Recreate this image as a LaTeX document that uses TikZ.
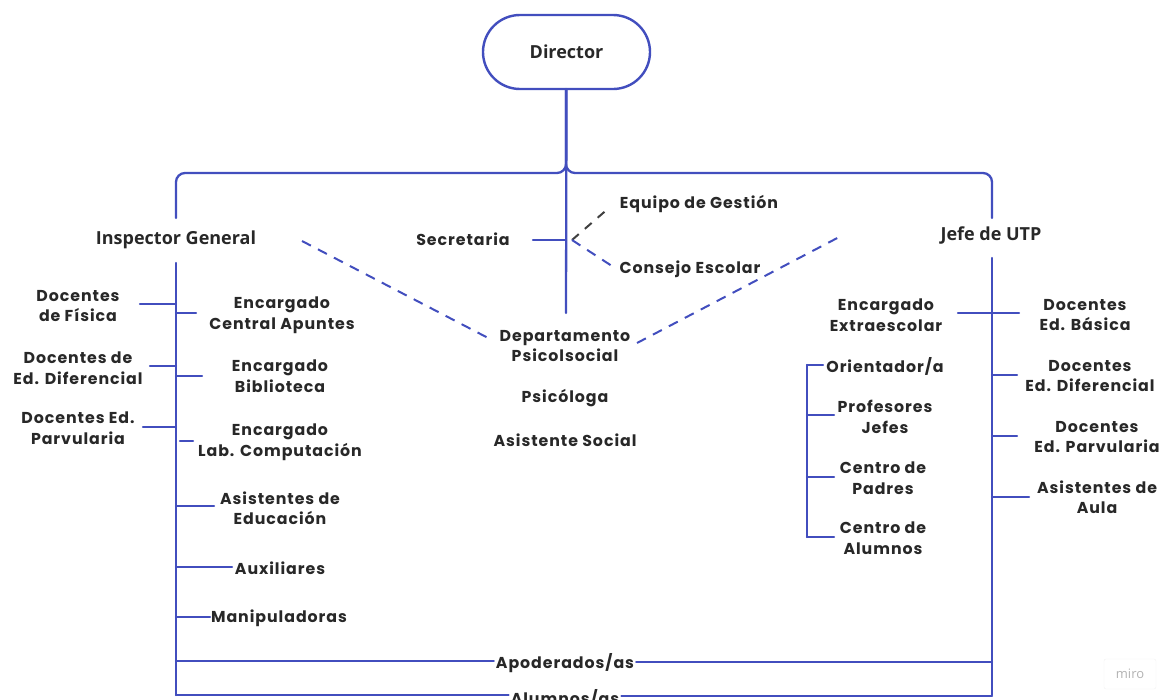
\documentclass[tikz,border=0pt]{standalone}
\usepackage{fontspec}
\newfontfamily\popf{Poppins}[LetterSpace=6]
\newfontfamily\opsf{Open Sans}
\definecolor{lnblue}{RGB}{66,78,190}
\definecolor{txt}{RGB}{40,40,40}
\tikzset{
  ln/.style={draw=lnblue, line width=2.3pt, line cap=round},
  dsh/.style={draw=lnblue, line width=2pt, dash pattern=on 10pt off 8pt},
  dshg/.style={draw=black!75, line width=2pt, dash pattern=on 9pt off 8pt},
  lbl/.style={text=txt, align=center, inner sep=1pt, font=\popf\bfseries\fontsize{15.8}{20.5}\selectfont},
  olbl/.style={text=txt, align=center, inner sep=1pt, font=\opsf\bfseries\fontsize{18}{20}\selectfont},
}
\begin{document}
\begin{tikzpicture}[x=1pt,y=-1pt]
\useasboundingbox (0,0) rectangle (1164,699);
% Director
\node[draw=lnblue, line width=2.4pt, rounded corners=37pt, minimum width=167pt, minimum height=74pt, olbl] (dir) at (566.5,52) {Director};
% spine coordinates
\coordinate (top) at (566,89);
\coordinate (junc) at (566,173);
\coordinate (Ltop) at (176,218);
\coordinate (Rtop) at (992,218);
\coordinate (Lbot) at (176,695);
\coordinate (Rbot) at (992,695);
\coordinate (Lmid) at (176,263);
\coordinate (Rmid) at (992,258);
\coordinate (cbot) at (566,313);
\draw[ln, rounded corners=9pt] (Ltop) -- (176,173) -- (junc) -- (top);
\draw[ln, rounded corners=9pt] (Rtop) -- (992,173) -- (junc) -- (top);
\draw[ln] (dir.south) -- (cbot);
\draw[ln] (Lmid) -- (Lbot);
\draw[ln] (Rmid) -- (Rbot);
% heads
\node[olbl] (insp) at (176,240) {Inspector General};
\node[olbl] (jefe) at (991,235) {Jefe de UTP};
% center
\node[lbl] (secr) at (463,239) {Secretaria};
\node[lbl] (equipo) at (699,204) {Equipo de Gestión};
\node[lbl] (consejo) at (690,269) {Consejo Escolar};
\node[lbl] (depto) at (565,346) {Departamento\\Psicolsocial};
\node[lbl] (psico) at (565,398) {Psicóloga};
\node[lbl] (asoc) at (565,440) {Asistente Social};
\coordinate (secA) at (533,240);
\coordinate (secB) at (566,240);
\coordinate (vtx) at (572,240);
\coordinate (eqE) at (610,207);
\coordinate (coE) at (615,268);
\draw[ln] (secA) -- (secB);
\draw[dshg] (vtx) -- (eqE);
\draw[dsh] (vtx) -- (coE);
\coordinate (inspD) at (302,241);
\coordinate (depL) at (492,340);
\coordinate (depR) at (637,343);
\coordinate (jefD) at (843,235);
\draw[dsh] (inspD) -- (depL);
\draw[dsh] (depR) -- (jefD);
% left side
\node[lbl] (dfis) at (78,306) {Docentes\\de Física};
\node[lbl] (ecap) at (282,315) {Encargado\\Central Apuntes};
\node[lbl] (ddif) at (78,368) {Docentes de\\Ed. Diferencial};
\node[lbl] (ebib) at (280,376) {Encargado\\Biblioteca};
\node[lbl] (dpar) at (78,428) {Docentes Ed.\\Parvularia};
\node[lbl] (elab) at (280,442) {Encargado\\Lab. Computación};
\node[lbl] (aedu) at (280,508) {Asistentes de\\Educación};
\node[lbl] (aux) at (280,568) {Auxiliares};
\node[lbl] (mani) at (279,618) {Manipuladoras};
\foreach \n/\xa/\xb/\y in {t1/140/176/304, t2/176/196/313, t3/150/176/366, t4/176/202/376, t5/143/176/427, t6/180/193/441, t7/176/214/506, t8/176/232/567, t9/176/210/617}{
  \coordinate (\n a) at (\xa,\y);
  \coordinate (\n b) at (\xb,\y);
  \draw[ln] (\n a) -- (\n b);
}
% bottom lines
\node[lbl, inner sep=2pt] (apod) at (565,663) {Apoderados/as};
\node[lbl, inner sep=2pt] (alum) at (565,698) {Alumnos/as};
\coordinate (apL) at (176,661);
\coordinate (apR) at (992,662);
\coordinate (alL) at (176,695);
\coordinate (alR) at (992,696);
\draw[ln] (apL) -- (apod.west |- apL);
\draw[ln] (apod.east |- apR) -- (apR);
\draw[ln] (alL) -- (alum.west |- alL);
\draw[ln] (alum.east |- alR) -- (alR);
% right side
\node[lbl] (eext) at (886,315) {Encargado\\Extraescolar};
\node[lbl] (dbas) at (1085,315) {Docentes\\Ed. Básica};
\node[lbl] (rdif) at (1090,376) {Docentes\\Ed. Diferencial};
\node[lbl] (rpar) at (1097,437) {Docentes\\Ed. Parvularia};
\node[lbl] (aaul) at (1097,497) {Asistentes de\\Aula};
\foreach \n/\xa/\xb/\y in {r1/958/1019/313, r2/992/1017/375, r3/992/1017/436, r4/992/1029/497}{
  \coordinate (\n a) at (\xa,\y);
  \coordinate (\n b) at (\xb,\y);
  \draw[ln] (\n a) -- (\n b);
}
\node[lbl] (orie) at (885,366) {Orientador/a};
\node[lbl] (prof) at (885,417) {Profesores\\Jefes};
\node[lbl] (cpad) at (883,478) {Centro de\\Padres};
\node[lbl] (calu) at (883,538) {Centro de\\Alumnos};
\coordinate (gT) at (807,365);
\coordinate (gB) at (807,537);
\draw[ln] (gT) -- (gB);
\foreach \n/\xb/\y in {g1/823/365, g2/834/415, g3/834/477, g4/834/537}{
  \coordinate (\n a) at (807,\y);
  \coordinate (\n b) at (\xb,\y);
  \draw[ln] (\n a) -- (\n b);
}
% watermark
\node[draw=black!6, rounded corners=2pt, minimum width=52pt, minimum height=30pt, text=black!30, font=\opsf\fontsize{13}{13}\selectfont] (miro) at (1130,674) {miro};
\end{tikzpicture}
\end{document}
